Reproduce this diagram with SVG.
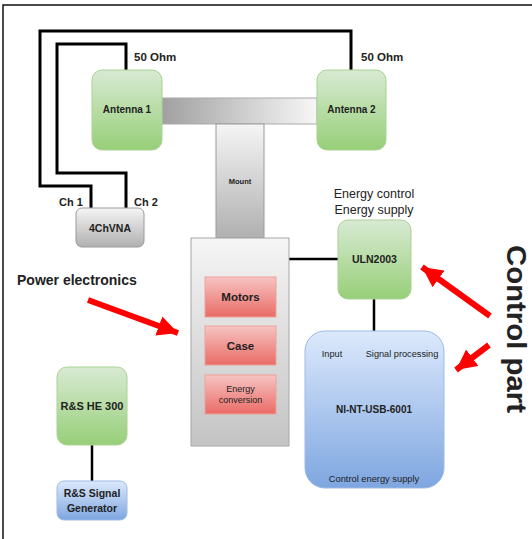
<svg xmlns="http://www.w3.org/2000/svg" width="532" height="539" viewBox="0 0 532 539">
<defs>
<linearGradient id="gGreen" x1="0" y1="0" x2="0" y2="1"><stop offset="0" stop-color="#d8ead3"/><stop offset="1" stop-color="#97cf78"/></linearGradient>
<linearGradient id="gBlue" x1="0" y1="0" x2="0" y2="1"><stop offset="0" stop-color="#dce9fc"/><stop offset="1" stop-color="#7ea6e0"/></linearGradient>
<linearGradient id="gRed" x1="0" y1="0" x2="0" y2="1"><stop offset="0" stop-color="#f6c4c2"/><stop offset="1" stop-color="#ea6b66"/></linearGradient>
<linearGradient id="gGray" x1="0" y1="0" x2="0" y2="1"><stop offset="0" stop-color="#f5f5f5"/><stop offset="1" stop-color="#b0b0b0"/></linearGradient>
<linearGradient id="gBody" x1="0" y1="0" x2="0" y2="1"><stop offset="0" stop-color="#f5f5f5"/><stop offset="1" stop-color="#c4c4c4"/></linearGradient>
<linearGradient id="gBeam" x1="0" y1="0" x2="1" y2="0"><stop offset="0" stop-color="#a0a0a0"/><stop offset="1" stop-color="#f7f7f7"/></linearGradient>
<marker id="redHead" viewBox="0 0 10 10" refX="10" refY="5" markerWidth="3.4" markerHeight="3.4" markerUnits="strokeWidth" orient="auto"><path d="M0,0 L10,5 L0,10 z" fill="#ff0000"/></marker>
</defs>
<style>
text{font-family:"Liberation Sans",Arial,sans-serif;fill:#222;}
.b{font-weight:bold;}
.green{fill:url(#gGreen);stroke:#a9d394;stroke-width:1;}
.blue{fill:url(#gBlue);stroke:#9dbbe6;stroke-width:1;}
.red{fill:url(#gRed);stroke:#f0a09c;stroke-width:1;}
.gray{fill:url(#gGray);stroke:#9a9a9a;stroke-width:1;}
.wire{fill:none;stroke:#000;stroke-width:3;}
.link{fill:none;stroke:#000;stroke-width:2.5;}
.arrow{fill:none;stroke:#ff0000;stroke-width:6;marker-end:url(#redHead);}
</style>
<rect width="532" height="539" fill="#fff"/>
<path d="M3,539 V5 H532" fill="none" stroke="#111" stroke-width="1.5"/>

<g id="connectors">
<path class="wire" d="M351,70 V31 H40 V186 H91 V208"/>
<path class="wire" d="M126,70 V44 H57 V173 H126 V208"/>
<path class="link" d="M289,259 H338"/>
<path class="link" d="M374,299 V331"/>
<path class="link" d="M92,445 V481"/>
</g>

<g id="beam"><rect x="162" y="98" width="155" height="26" fill="url(#gBeam)" stroke="#aaa" stroke-width="1"/></g>
<g id="mount"><rect x="216" y="124" width="48" height="114" class="gray"/><text x="240" y="184" font-size="7.5" class="b" text-anchor="middle">Mount</text></g>

<g id="antenna1"><rect x="92" y="70" width="70" height="80" rx="10" class="green"/><text x="127" y="113" font-size="10" class="b" text-anchor="middle">Antenna 1</text></g>
<g id="antenna2"><rect x="317" y="70" width="69" height="80" rx="10" class="green"/><text x="351.5" y="113" font-size="10" class="b" text-anchor="middle">Antenna 2</text></g>
<text x="134" y="61" font-size="11.5" class="b">50 Ohm</text>
<text x="361" y="61" font-size="11.5" class="b">50 Ohm</text>

<g id="vna"><rect x="76" y="208" width="68" height="39" rx="6" class="gray"/><text x="110" y="232" font-size="10.5" class="b" text-anchor="middle">4ChVNA</text></g>
<text x="59" y="206" font-size="11" class="b">Ch 1</text>
<text x="134" y="206" font-size="11" class="b">Ch 2</text>

<g id="body"><rect x="191" y="238" width="98" height="208" fill="url(#gBody)" stroke="#a6a6a6" stroke-width="1"/></g>
<g id="motors"><rect x="205" y="277" width="71" height="40" class="red"/><text x="240.5" y="301" font-size="11.5" class="b" text-anchor="middle">Motors</text></g>
<g id="case"><rect x="205" y="326" width="71" height="39" class="red"/><text x="240.5" y="350" font-size="11.5" class="b" text-anchor="middle">Case</text></g>
<g id="energyconv"><rect x="205" y="375" width="71" height="39" class="red"/><text x="240.5" y="392" font-size="9" text-anchor="middle">Energy</text><text x="240.5" y="403" font-size="9" text-anchor="middle">conversion</text></g>

<g id="uln"><rect x="338" y="220" width="73" height="79" rx="10" class="green"/><text x="374.5" y="263" font-size="10.5" class="b" text-anchor="middle">ULN2003</text></g>
<text x="374" y="198" font-size="12.5" text-anchor="middle">Energy control</text>
<text x="374" y="214" font-size="12.5" text-anchor="middle">Energy supply</text>

<g id="ni"><rect x="305" y="331" width="139" height="157" rx="20" class="blue"/>
<text x="332" y="357" font-size="9.2" text-anchor="middle">Input</text>
<text x="402" y="357" font-size="9.2" text-anchor="middle">Signal processing</text>
<text x="374" y="413" font-size="10" class="b" text-anchor="middle">NI-NT-USB-6001</text>
<text x="374" y="482" font-size="9.3" text-anchor="middle">Control energy supply</text></g>

<g id="he300"><rect x="57" y="367" width="70" height="78" rx="10" class="green"/><text x="92" y="410" font-size="11" class="b" text-anchor="middle">R&amp;S HE 300</text></g>
<g id="siggen"><rect x="57" y="481" width="70" height="39" rx="7" class="blue"/><text x="92" y="497" font-size="10.5" class="b" text-anchor="middle">R&amp;S Signal</text><text x="92" y="512" font-size="10.5" class="b" text-anchor="middle">Generator</text></g>

<text x="17" y="285" font-size="14" class="b">Power electronics</text>
<text transform="translate(507,329) rotate(90)" font-size="27" font-weight="bold" text-anchor="middle" textLength="168" lengthAdjust="spacingAndGlyphs" fill="#000">Control part</text>

<g id="arrows">
<path class="arrow" d="M88,300 L178,333"/>
<path class="arrow" d="M490,316 L422,267"/>
<path class="arrow" d="M489,345 L456,370"/>
</g>
</svg>
